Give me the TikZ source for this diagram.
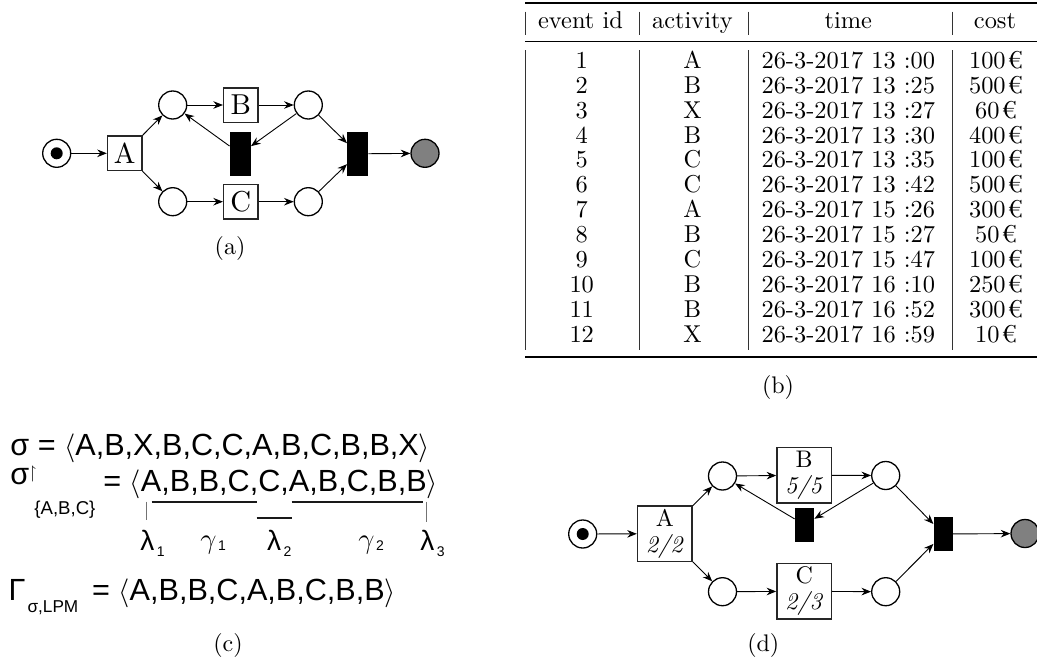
\documentclass[tikz,border=0pt]{standalone}
\usepackage{amssymb}
\usepackage{fontspec}
\setmainfont{lmroman10-regular.otf}[ItalicFont=lmroman10-italic.otf,BoldFont=lmroman10-bold.otf]
\usetikzlibrary{arrows.meta}
\newfontfamily\arialf{Liberation Sans}
\begin{document}
\begin{tikzpicture}[x=0.5pt,y=-0.5pt,
  place/.style={circle,draw,line width=0.65pt,minimum size=14pt,inner sep=0pt},
  tok/.style={circle,fill=black,minimum size=6pt,inner sep=0pt},
  endplace/.style={place,fill=gray},
  arr/.style={-{Stealth[length=4.8pt,width=3.8pt,inset=1.6pt]},line width=0.45pt},
  boxa/.style={draw=black!85,line width=0.7pt,minimum size=17.2pt,inner sep=0pt,font=\fontsize{14.4}{16}\selectfont},
  boxd/.style={draw=black!85,line width=0.7pt,minimum width=27.3pt,minimum height=27.8pt,inner sep=0pt,align=center,font=\fontsize{12}{13}\selectfont},
  blka/.style={fill=black,inner sep=0pt,minimum width=10.3pt,minimum height=22.1pt},
  blkd/.style={fill=black,inner sep=0pt,minimum width=9.5pt,minimum height=16.8pt},
  lab/.style={font=\fontsize{12}{14}\selectfont,inner sep=0pt},
  cell/.style={anchor=base,inner sep=0pt,font=\fontsize{12.2}{14}\selectfont},
  heavyrule/.style={line width=1pt},
  lightrule/.style={line width=0.6pt},
  vbar/.style={line width=0.45pt,black!80},
  cf/.style={anchor=base west,inner sep=0pt,font=\arialf\fontsize{15.3}{18}\selectfont},
  cfs/.style={anchor=base west,inner sep=0pt,font=\arialf\fontsize{14}{16}\selectfont},
  uline/.style={line width=0.9pt,black!90},
  tickline/.style={line width=0.45pt,black!55}
]
\useasboundingbox (0,0) rectangle (1037,664);

% ---------------- (a) ----------------
\node[place] (a0) at (56.7,153.3) {};
\node[tok] (a0t) at (a0) {};
\node[boxa] (aA) at (124.7,153.3) {A};
\node[place] (ap1) at (172.7,105) {};
\node[place] (ap2) at (172.7,201.7) {};
\node[boxa] (aB) at (240.8,105) {B};
\node[boxa] (aC) at (240.8,201.7) {C};
\node[place] (ap3) at (308.3,105) {};
\node[place] (ap4) at (308.3,201.7) {};
\node[blka] (at1) at (240.3,153.8) {};
\node[blka] (at2) at (357.7,153.8) {};
\node[endplace] (aend) at (425,153.3) {};
\node[lab] (la) at (230,248) {(a)};
\draw[arr] (a0) -- (aA);
\draw[arr] (aA) -- (ap1);
\draw[arr] (aA) -- (ap2);
\draw[arr] (ap1) -- (aB);
\draw[arr] (aB) -- (ap3);
\draw[arr] (ap3) -- (at1);
\draw[arr] (at1) -- (ap1);
\draw[arr] (ap2) -- (aC);
\draw[arr] (aC) -- (ap4);
\draw[arr] (ap3) -- (at2);
\draw[arr] (ap4) -- (at2);
\draw[arr] (at2) -- (aend);

% ---------------- (b) table ----------------
\draw[heavyrule] (525,3.3) -- (1037,3.3);
\draw[lightrule] (525,41.7) -- (1037,41.7);
\draw[heavyrule] (525,356.7) -- (1037,356.7);
\foreach \xx in {525,639,748,952} {
  \draw[vbar] (\xx,11.7) -- (\xx,35);
  \draw[vbar] (\xx,50) -- (\xx,350);
}
\node[cell] (h1) at (580.5,28.5) {event id};
\node[cell] (h2) at (692.5,28.5) {activity};
\node[cell] (h3) at (848.3,28.5) {time};
\node[cell] (h4) at (995,28.5) {cost};
\foreach \i/\act/\tm/\cst in {1/A/13 :00/100,2/B/13 :25/500,3/X/13 :27/60,4/B/13 :30/400,5/C/13 :35/100,6/C/13 :42/500,7/A/15 :26/300,8/B/15 :27/50,9/C/15 :47/100,10/B/16 :10/250,11/B/16 :52/300,12/X/16 :59/10} {
  \pgfmathsetmacro{\yy}{68.3+(\i-1)*24.9}
  \node[cell] (r\i c1) at (581.7,\yy) {\i};
  \node[cell] (r\i c2) at (692.5,\yy) {\act};
  \node[cell] (r\i c3) at (848.3,\yy) {26-3-2017 \tm};
  \node[cell] (r\i c4) at (996,\yy) {\cst\kern1pt€};
}
\node[lab] (lb) at (778,387) {(b)};

% ---------------- (c) ----------------
\node[cf] (c1) at (10,455) {σ = $\langle$A,B,X,B,C,C,A,B,C,B,B,X$\rangle$};
\node[cf] (c2a) at (10,484) {σ};
\node[anchor=south west,inner sep=0pt,font=\fontsize{9}{10}\selectfont] (c2r) at (28.5,482) {$\restriction$};
\node[anchor=base west,inner sep=0pt,font=\arialf\fontsize{9.3}{10}\selectfont] (c2s) at (34,514) {\{A,B,C\}};
\node[cf] (c2b) at (103,491.7) {= $\langle$A,B,B,C,C,A,B,C,B,B$\rangle$};
\draw[uline] (151.7,501.7) -- (256.7,501.7);
\draw[uline] (291.7,501.7) -- (422.7,501.7);
\draw[uline] (256.7,517.7) -- (291.7,517.7);
\draw[tickline] (146.7,501.7) -- (146.7,520);
\draw[tickline] (426.7,501.7) -- (426.7,521.7);
\node[cfs] (l1) at (140,550) {λ\kern1.2pt\raisebox{-3pt}{\fontsize{7}{8}\selectfont 1}};
\node[cfs] (g1) at (200,548) {\fontsize{15}{16}\selectfont$\gamma$\kern0.8pt\raisebox{-1pt}{\fontsize{7}{8}\selectfont 1}};
\node[cfs] (l2) at (266.7,550) {λ\kern1.2pt\raisebox{-3pt}{\fontsize{7}{8}\selectfont 2}};
\node[cfs] (g2) at (358,548) {\fontsize{15}{16}\selectfont$\gamma$\kern0.8pt\raisebox{-1pt}{\fontsize{7}{8}\selectfont 2}};
\node[cfs] (l3) at (420,550) {λ\kern1.2pt\raisebox{-3pt}{\fontsize{7}{8}\selectfont 3}};
\node[cf] (c3a) at (8.3,600) {Γ\kern1pt\raisebox{-6pt}{\fontsize{8.6}{10}\selectfont σ,LPM}};
\node[cf] (c3b) at (91.7,600) {= $\langle$A,B,B,C,A,B,C,B,B$\rangle$};
\node[lab] (lc) at (228,645.5) {(c)};

% ---------------- (d) ----------------
\node[place] (d0) at (582.7,534) {};
\node[tok] (d0t) at (d0) {};
\node[boxd] (dA) at (664.8,533.7) {A\\\textit{2/2}};
\node[place] (dp1) at (722.5,476) {};
\node[place] (dp2) at (722.5,591.7) {};
\node[boxd] (dB) at (804.2,475.3) {B\\\textit{5/5}};
\node[boxd] (dC) at (804.2,591.3) {C\\\textit{2/3}};
\node[place] (dp3) at (885.7,475.5) {};
\node[place] (dp4) at (885.7,591.7) {};
\node[blkd] (dt1) at (804.5,524.8) {};
\node[blkd] (dt2) at (943.3,534) {};
\node[endplace] (dend) at (1025,533.5) {};
\node[lab] (ld) at (763.3,645) {(d)};
\draw[arr] (d0) -- (dA);
\draw[arr] (dA) -- (dp1);
\draw[arr] (dA) -- (dp2);
\draw[arr] (dp1) -- (dB);
\draw[arr] (dB) -- (dp3);
\draw[arr] (dp3) -- (dt1);
\draw[arr] (dt1) -- (dp1);
\draw[arr] (dp2) -- (dC);
\draw[arr] (dC) -- (dp4);
\draw[arr] (dp3) -- (dt2);
\draw[arr] (dp4) -- (dt2);
\draw[arr] (dt2) -- (dend);
\end{tikzpicture}
\end{document}
